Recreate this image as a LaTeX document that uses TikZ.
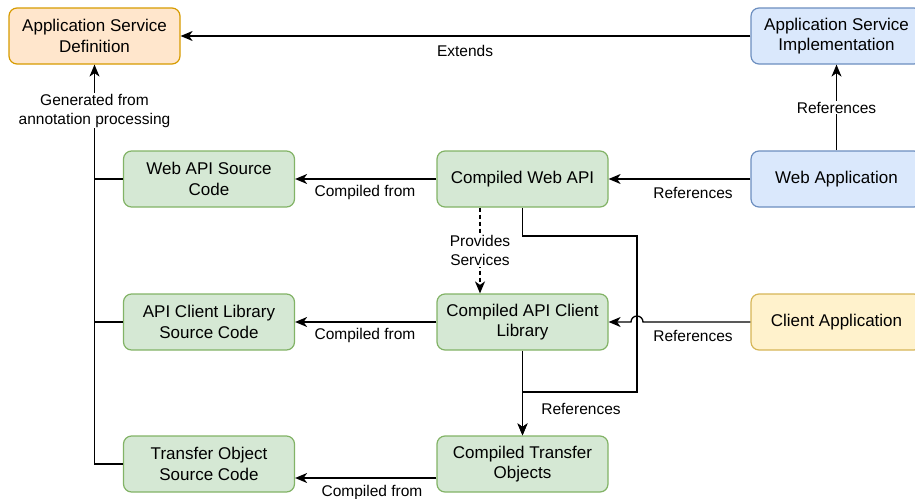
\documentclass[tikz,border=0pt]{standalone}
\usepackage{fontspec}
\setmainfont{Liberation Sans}
\usetikzlibrary{arrows.meta,positioning,calc}

\definecolor{greenF}{HTML}{D5E8D4}
\definecolor{greenS}{HTML}{82B366}
\definecolor{orangeF}{HTML}{FFE6CC}
\definecolor{orangeS}{HTML}{D79B00}
\definecolor{blueF}{HTML}{DAE8FC}
\definecolor{blueS}{HTML}{6C8EBF}
\definecolor{yellowF}{HTML}{FFF2CC}
\definecolor{yellowS}{HTML}{D6B656}

\tikzset{
  box/.style={rectangle, rounded corners=8pt, line width=1.2pt,
    minimum width=171pt, minimum height=56pt, align=center,
    font=\fontsize{17}{20.5}\selectfont, inner sep=2pt},
  gbox/.style={box, fill=greenF, draw=greenS},
  obox/.style={box, fill=orangeF, draw=orangeS},
  bbox/.style={box, fill=blueF, draw=blueS},
  ybox/.style={box, fill=yellowF, draw=yellowS},
  conn/.style={line width=1.3pt, draw=black},
  arr/.style={conn, -{Stealth[length=12pt,width=10pt,inset=3.5pt]}},
  lbl/.style={font=\fontsize{15.5}{19}\selectfont, align=center, inner sep=1pt},
  wlbl/.style={lbl, fill=white}
}

\begin{document}
\begin{tikzpicture}[x=1pt,y=-1pt]
\useasboundingbox (0,0) rectangle (915,498);

% boxes
\node[obox] (def)  at (94.5,36)  {Application Service\\Definition};
\node[bbox] (impl) at (836.5,36) {Application Service\\Implementation};
\node[gbox] (wsrc) at (209,179)  {Web API Source\\Code};
\node[gbox] (cwa)  at (522.5,179) {Compiled Web API};
\node[bbox] (wapp) at (836.5,179) {Web Application};
\node[gbox] (asrc) at (209,322)  {API Client Library\\Source Code};
\node[gbox] (cacl) at (522.5,322) {Compiled API Client\\Library};
\node[ybox] (capp) at (836.5,322) {Client Application};
\node[gbox] (tsrc) at (209,464)  {Transfer Object\\Source Code};
\node[gbox] (cto)  at (522.5,464) {Compiled Transfer\\Objects};

% extends
\draw[arr] (impl.west) -- (def.east);
\node[lbl] (lext) at (465,50.5) {Extends};

% web application references implementation
\draw[arr] (wapp.north) -- (impl.south);
\node[wlbl] (lref1) at (836.5,107.5) {References};

% generated-from bus on the left
\draw[arr] (tsrc.west) -| (def.south);
\draw[conn] (wsrc.west) -- (wsrc.west -| def.south);
\draw[conn] (asrc.west) -- (asrc.west -| def.south);
\node[wlbl] (lgen) at (94.5,110.5) {Generated from\\annotation processing};

% compiled from
\draw[arr] (cwa.west) -- (wsrc.east);
\node[lbl] (lc1) at (365,192.5) {Compiled from};
\draw[arr] (cacl.west) -- (asrc.east);
\node[lbl] (lc2) at (365,335.5) {Compiled from};
\draw[arr] ([yshift=-14pt]cto.west) -- ([yshift=-14pt]tsrc.east);
\node[lbl] (lc3) at (372,492) {Compiled from};

% web application references compiled web api
\draw[arr] (wapp.west) -- (cwa.east);
\node[lbl] (lr2) at (693,192.5) {References};

% provides services
\draw[arr, dashed, dash pattern=on 4pt off 3pt] ([xshift=-42.5pt]cwa.south) -- ([xshift=-42.5pt]cacl.north);
\node[wlbl] (lprov) at (480,250.5) {Provides\\Services};

% compiled web api references transfer objects
\coordinate (w1) at (522.5,236);
\coordinate (w2) at (637,236);
\coordinate (w3) at (637,392);
\coordinate (w4) at (522.5,392);
\draw[arr] (cwa.south) -- (w1) -- (w2) -- (w3) -- (w4) -- (cto.north);
\draw[arr] (cacl.south) -- (cto.north);
\node[lbl] (lr3) at (581,408.5) {References};

% client application references api client library (jumps over the vertical line)
\coordinate (j1) at (643,322);
\coordinate (j2) at (631,322);
\draw[arr] (capp.west) -- (j1) arc[start angle=0, end angle=180, radius=6pt] -- (cacl.east);
\node[lbl] (lr4) at (693,335.5) {References};
\end{tikzpicture}
\end{document}
